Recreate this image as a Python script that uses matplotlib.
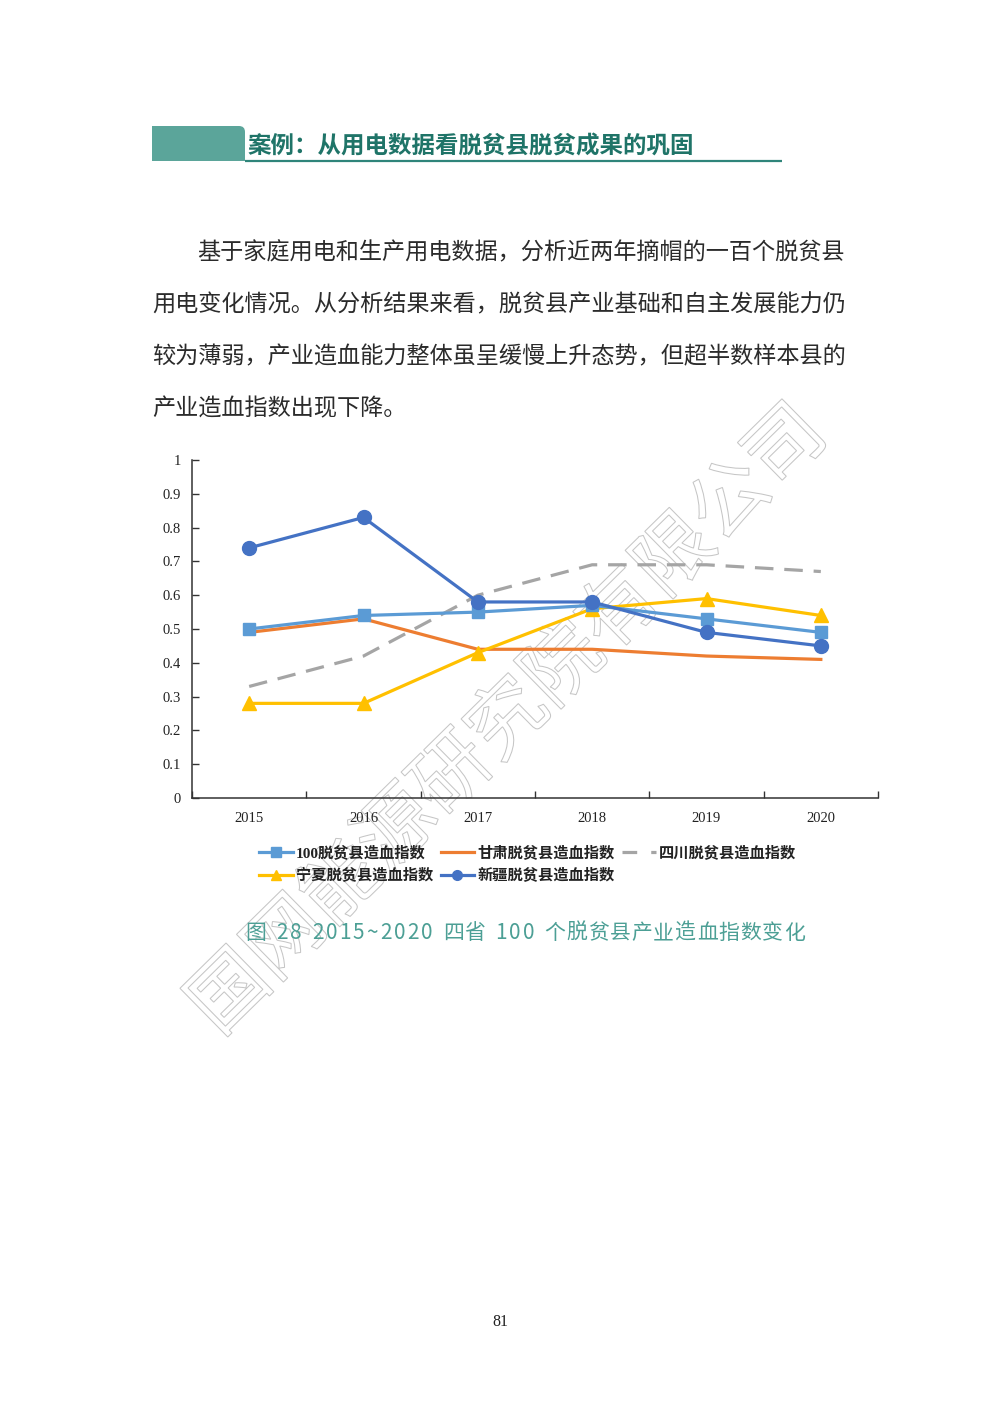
import matplotlib
matplotlib.use("Agg")
import matplotlib.pyplot as plt
from matplotlib.patches import FancyBboxPatch, PathPatch, Rectangle
from matplotlib.textpath import TextPath
from matplotlib.font_manager import FontProperties
from matplotlib.transforms import Affine2D
from matplotlib.lines import Line2D

# ---- data ----
years = ["2015", "2016", "2017", "2018", "2019", "2020"]
idx_100 = [0.50, 0.54, 0.55, 0.57, 0.53, 0.49]
idx_gansu = [0.49, 0.53, 0.44, 0.44, 0.42, 0.41]
idx_sichuan = [0.33, 0.42, 0.60, 0.69, 0.69, 0.67]
idx_ningxia = [0.28, 0.28, 0.43, 0.56, 0.59, 0.54]
idx_xinjiang = [0.74, 0.83, 0.58, 0.58, 0.49, 0.45]
series_names = ["100脱贫县造血指数", "甘肃脱贫县造血指数", "四川脱贫县造血指数",
                "宁夏脱贫县造血指数", "新疆脱贫县造血指数"]
y_ticks = [0, 0.1, 0.2, 0.3, 0.4, 0.5, 0.6, 0.7, 0.8, 0.9, 1]
y_tick_labels = ["0", "0.1", "0.2", "0.3", "0.4", "0.5", "0.6", "0.7", "0.8", "0.9", "1"]

heading = "案例：从用电数据看脱贫县脱贫成果的巩固"
body_lines = [
    "基于家庭用电和生产用电数据，分析近两年摘帽的一百个脱贫县",
    "用电变化情况。从分析结果来看，脱贫县产业基础和自主发展能力仍",
    "较为薄弱，产业造血能力整体虽呈缓慢上升态势，但超半数样本县的",
    "产业造血指数出现下降。",
]
caption = "图 28 2015~2020 四省 100 个脱贫县产业造血指数变化"
watermark = "国网能源研究院有限公司"
page_no = "81"

CJK = "Noto Sans CJK SC"
SERIF = "Liberation Serif"
W, H = 1000, 1413

fig = plt.figure(figsize=(W / 100, H / 100), dpi=100)
fig.patch.set_facecolor("white")

# page layer in pixel units (y measured from the bottom)
page = fig.add_axes([0, 0, 1, 1])
page.set_xlim(0, W)
page.set_ylim(0, H)
page.axis("off")


def Y(y_top):
    return H - y_top


# heading block
block = FancyBboxPatch((152, Y(161)), 93, 35,
                       boxstyle="round,pad=0,rounding_size=6",
                       facecolor="#5ba59a", edgecolor="none")
page.add_patch(block)
page.add_patch(Rectangle((152, Y(161)), 20, 35, facecolor="#5ba59a", edgecolor="none"))
page.add_patch(Rectangle((152, Y(161)), 93, 15, facecolor="#5ba59a", edgecolor="none"))
page.plot([245, 782], [Y(160.5), Y(160.5)], color="#2f857a", lw=1.6, solid_capstyle="butt")
page.text(247, Y(147), heading, family=[CJK], fontsize=16.9, color="#1f7468",
          va="center", ha="left", fontweight="bold")

# body paragraph
body_y = [253, 305, 357, 409]
for i, (line, yy) in enumerate(zip(body_lines, body_y)):
    x0 = 197 if i == 0 else 152
    page.text(x0, Y(yy), line, family=[CJK, "DejaVu Sans"], fontsize=16.7,
              color="#2b2b2b", va="center", ha="left")

# watermark (outlined characters)
fp = FontProperties(family=CJK)
tp = TextPath((0, 0), watermark, size=78, prop=fp)
bb = tp.get_extents()
tr = (Affine2D().translate(-(bb.x0 + bb.width / 2), -(bb.y0 + bb.height / 2))
      .rotate_deg(44.5).translate(503, Y(716)))
page.add_patch(PathPatch(tr.transform_path(tp), facecolor="none",
                         edgecolor="#c6c6c6", lw=0.75, zorder=1))

# caption with spaced characters
x = 245
for ch in caption:
    if ch == " ":
        adv = 8.5
    elif ch.isdigit():
        adv = 13.6
    elif ch == "~":
        adv = 14
    else:
        adv = 21.8
    page.text(x + adv / 2, Y(933), ch, family=[CJK], fontsize=15,
              color="#4c9f95", va="center", ha="center")
    x += adv

page.text(500, Y(1322), page_no, family=[SERIF], fontsize=11.5, color="#222222",
          va="center", ha="center")

# ---- chart ----
ax = fig.add_axes([192 / W, 1 - 798 / H, (878 - 192) / W, (798 - 460) / H])
ax.set_facecolor("none")
xs = list(range(len(years)))

c_100, c_gs, c_sc, c_nx, c_xj = "#5b9bd5", "#ed7d31", "#a5a5a5", "#ffc000", "#4472c4"
lw = 2.3
dash = (0, (5.8, 3.4))
ax.plot(xs, idx_sichuan, color=c_sc, lw=lw, linestyle=dash, zorder=2)
ax.plot(xs, idx_gansu, color=c_gs, lw=lw, zorder=3)
ax.plot(xs, idx_ningxia, color=c_nx, lw=lw, marker="^", ms=9.5, zorder=4)
ax.plot(xs, idx_100, color=c_100, lw=lw, marker="s", ms=9, zorder=5)
ax.plot(xs, idx_xinjiang, color=c_xj, lw=lw, marker="o", ms=10, zorder=6)

ax.set_xlim(-0.5, len(years) - 0.5)
ax.set_ylim(0, 1)
ax.set_xticks(xs)
ax.set_xticklabels(years, family=SERIF, fontsize=10.5, color="#222222")
ax.set_xticks([i - 0.5 for i in range(len(years) + 1)], minor=True)
ax.tick_params(axis="x", which="major", length=0, pad=10)
ax.tick_params(axis="x", which="minor", direction="in", length=5, width=1, color="#333333")
ax.set_yticks(y_ticks)
ax.set_yticklabels(y_tick_labels, family=SERIF, fontsize=10.5, color="#222222")
ax.tick_params(axis="y", direction="in", length=5, width=1, color="#333333", pad=8)
for s in ["top", "right"]:
    ax.spines[s].set_visible(False)
for s in ["left", "bottom"]:
    ax.spines[s].set_color("#333333")
    ax.spines[s].set_linewidth(1.1)

# legend (row-wise order across three columns)
h_100 = Line2D([], [], color=c_100, lw=lw, marker="s", ms=7)
h_gs = Line2D([], [], color=c_gs, lw=lw)
h_sc = Line2D([], [], color=c_sc, lw=lw, linestyle=(0, (4.6, 4.4)))
h_nx = Line2D([], [], color=c_nx, lw=lw, marker="^", ms=7)
h_xj = Line2D([], [], color=c_xj, lw=lw, marker="o", ms=7)
handles = [h_100, h_nx, h_gs, h_xj, h_sc]
labels = [series_names[0], series_names[3], series_names[1], series_names[4], series_names[2]]
fig.legend(handles, labels, loc="upper left", bbox_to_anchor=(259 / W, 1 - 845 / H),
           ncol=3, frameon=False, handlelength=2.2, handletextpad=0.2,
           columnspacing=0.5, labelspacing=0.52, borderpad=0, borderaxespad=0,
           prop=FontProperties(family=[SERIF, CJK], size=11, weight="bold"),
           labelcolor="#222222")

fig.savefig("out.png", dpi=100, facecolor="white")
